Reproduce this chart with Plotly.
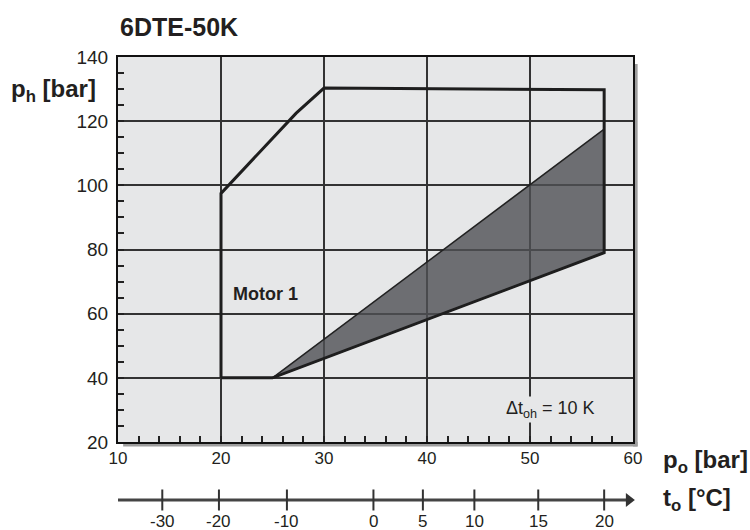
import plotly.graph_objects as go

# ---- data ----
envelope_po = [20, 20, 27.3, 30, 57.2, 57.2, 25, 20]
envelope_ph = [40, 97.5, 122.5, 130.3, 129.8, 79, 40, 40]

shaded_po = [25, 57.2, 57.2, 25]
shaded_ph = [40, 117.5, 79, 40]

to_labels = ["-30", "-20", "-10", "0", "5", "10", "15", "20"]
to_po_equiv = [14.3, 19.8, 26.4, 34.8, 39.6, 44.6, 50.8, 57.2]

x_ticks = [10, 20, 30, 40, 50, 60]
y_ticks = [20, 40, 60, 80, 100, 120, 140]

to_line_po = [10, 59.6]

BG = "#e6e7e8"
TXT = "#231f20"
FONT = "Liberation Sans, Arial, sans-serif"

LINE_Y = 0.705   # level of the t_o arrow inside the small bottom axis
LABEL_Y = 0.19   # level of the t_o labels

fig = go.Figure()

fig.add_trace(go.Scatter(
    x=shaded_po, y=shaded_ph, mode="lines", fill="toself",
    fillcolor="rgba(79,80,84,0.8)", line=dict(color="#222", width=1.5),
    hoverinfo="skip", showlegend=False, xaxis="x", yaxis="y"))

fig.add_trace(go.Scatter(
    x=envelope_po, y=envelope_ph, mode="lines",
    line=dict(color="#1e1e1e", width=3), hoverinfo="skip",
    showlegend=False, xaxis="x", yaxis="y"))

# t_o secondary scale: arrow shaft
fig.add_trace(go.Scatter(
    x=to_line_po, y=[LINE_Y, LINE_Y], mode="lines",
    line=dict(color="#444", width=3), hoverinfo="skip",
    showlegend=False, xaxis="x2", yaxis="y2", cliponaxis=False))
# arrow head
fig.add_trace(go.Scatter(
    x=[to_line_po[1]], y=[LINE_Y], mode="markers",
    marker=dict(symbol="triangle-right", size=12, color="#333"),
    hoverinfo="skip", showlegend=False, xaxis="x2", yaxis="y2",
    cliponaxis=False))
# tick marks across the line
fig.add_trace(go.Scatter(
    x=to_po_equiv, y=[LINE_Y] * len(to_po_equiv), mode="markers",
    marker=dict(symbol="line-ns", size=15, line=dict(color="#333", width=2)),
    hoverinfo="skip", showlegend=False, xaxis="x2", yaxis="y2",
    cliponaxis=False))

y1_bottom = 0.186
fig.update_layout(
    width=750, height=530,
    margin=dict(l=118, r=117, t=57, b=0),
    paper_bgcolor="white", plot_bgcolor="white",
    font=dict(family=FONT, color=TXT, size=17),
    xaxis=dict(range=[10, 60], tickvals=x_ticks, showgrid=True,
               gridcolor="#333", gridwidth=1.5, zeroline=False,
               showline=True, linecolor="#111", linewidth=2, mirror=True,
               ticks="inside", ticklen=6, tickwidth=2, tickcolor="#222",
               minor=dict(dtick=2, ticks="inside", ticklen=6, tickwidth=2,
                          tickcolor="#222", showgrid=False),
               tickfont=dict(size=17), anchor="y", domain=[0, 1],
               automargin=False),
    yaxis=dict(range=[20, 140], tickvals=y_ticks, showgrid=True,
               gridcolor="#333", gridwidth=1.5, zeroline=False,
               showline=True, linecolor="#111", linewidth=2, mirror=True,
               ticks="inside", ticklen=6, tickwidth=2, tickcolor="#222",
               minor=dict(dtick=5, ticks="inside", ticklen=6, tickwidth=2,
                          tickcolor="#222", showgrid=False),
               tickfont=dict(size=19), ticklabelstandoff=4,
               domain=[y1_bottom, 1], anchor="x", automargin=False),
    xaxis2=dict(range=[10, 60], visible=False, anchor="y2", domain=[0, 1],
                automargin=False),
    yaxis2=dict(range=[0, 1], visible=False, domain=[0.0, 0.09],
                anchor="x2", automargin=False),
)

# t_o tick labels
for lbl, xv in zip(to_labels, to_po_equiv):
    fig.add_annotation(text=lbl, xref="x2", yref="y2", x=xv, y=LABEL_Y,
                       showarrow=False, font=dict(size=17, color=TXT))

# gray background of the main chart only
fig.add_shape(type="rect", xref="x domain", yref="y domain", x0=0, x1=1,
              y0=0, y1=1, fillcolor=BG, line=dict(width=0), layer="below")

# frame shadow
fig.add_shape(type="rect", xref="paper", yref="paper", x0=1.0, x1=1.009,
              y0=y1_bottom - 0.0095, y1=0.985, fillcolor="#9d9d9d",
              line=dict(width=0), layer="below")
fig.add_shape(type="rect", xref="paper", yref="paper", x0=0.01, x1=1.009,
              y0=y1_bottom - 0.0095, y1=y1_bottom, fillcolor="#9d9d9d",
              line=dict(width=0), layer="below")

# texts
fig.add_annotation(text="<b>6DTE-50K</b>", xref="paper", yref="paper",
                   x=0, y=1, xanchor="left", yanchor="middle", yshift=30,
                   showarrow=False, font=dict(size=25, color=TXT))
fig.add_annotation(text="<b>p<sub>h</sub> [bar]</b>", xref="paper", yref="y",
                   x=0, y=129.5, xanchor="right", yanchor="middle",
                   xshift=-20, showarrow=False, font=dict(size=24, color=TXT))
fig.add_annotation(text="<b>p<sub>o</sub> [bar]</b>", xref="paper", yref="y",
                   x=1, y=20, xanchor="left", yanchor="middle",
                   xshift=28, yshift=-19, showarrow=False,
                   font=dict(size=24, color=TXT))
fig.add_annotation(text="<b>t<sub>o</sub> [°C]</b>", xref="paper", yref="y2",
                   x=1, y=LINE_Y, xanchor="left", yanchor="middle",
                   xshift=28, showarrow=False, font=dict(size=24, color=TXT))
fig.add_annotation(text="<b>Motor 1</b>", xref="x", yref="y",
                   x=24.3, y=66.2, showarrow=False,
                   font=dict(size=18, color=TXT))
fig.add_annotation(text="Δt<sub>oh</sub> = 10 K", xref="x", yref="y",
                   x=52.0, y=30, showarrow=False, bgcolor=BG,
                   font=dict(size=18, color=TXT))

fig.write_html("out.html", config={"displayModeBar": False},
               post_script="document.body.style.margin='0px';")
